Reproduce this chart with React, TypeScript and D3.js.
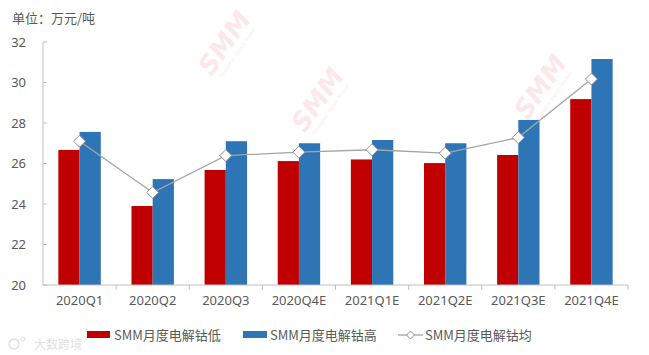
import React from "react";
import * as d3 from "d3";

const categories = ["2020Q1", "2020Q2", "2020Q3", "2020Q4E", "2021Q1E", "2021Q2E", "2021Q3E", "2021Q4E"];
const lowValues = [26.67, 23.9, 25.68, 26.12, 26.2, 26.02, 26.42, 29.18];
const highValues = [27.56, 25.23, 27.1, 27.0, 27.16, 27.0, 28.15, 31.16];
const avgValues = [27.1, 24.57, 26.39, 26.56, 26.68, 26.51, 27.28, 30.17];
const yTicks = [20, 22, 24, 26, 28, 30, 32];
const seriesNames = ["SMM月度电解钴低", "SMM月度电解钴高", "SMM月度电解钴均"];

const W = 649;
const H = 355;
const left = 43;
const right = 628;
const top = 42;
const bottom = 285;

const watermarks = [
  [232, 48],
  [325, 105],
  [548, 92],
];

export default function App() {
  const x = d3.scaleBand<string>().domain(categories).range([left, right]).paddingInner(0).paddingOuter(0);
  const y = d3.scaleLinear().domain([20, 32]).range([bottom, top]);
  const bw = x.bandwidth();
  const barW = bw * 0.29;
  const line = d3
    .line<number>()
    .x((_, i) => (x(categories[i]) as number) + bw / 2)
    .y((d) => y(d));
  const font = "'Noto Sans CJK SC', 'Noto Sans', sans-serif";
  const textColor = "#595959";
  const axisColor = "#BFBFBF";
  const diamond = (cx: number, cy: number, r: number) =>
    `M${cx},${cy - r}L${cx + r},${cy}L${cx},${cy + r}L${cx - r},${cy}Z`;

  return (
    <svg
      width={W}
      height={H}
      style={{ position: "absolute", left: 0, top: 0, background: "#fff" }}
      fontFamily={font}
    >
      <rect width={W} height={H} fill="#fff" />
      {/* watermarks */}
      {watermarks.map(([wx, wy], i) => (
        <g key={i} transform={`translate(${wx},${wy}) rotate(-55)`} opacity={0.1}>
          <text textAnchor="middle" fontSize={26} fontWeight="bold" fontStyle="italic" fill="#E0303A" fontFamily="'DejaVu Sans', sans-serif">
            SMM
          </text>
          <text y={9} textAnchor="middle" fontSize={5} fill="#E0303A" fontFamily="'DejaVu Sans', sans-serif">
            Shanghai Metals Market
          </text>
        </g>
      ))}
      <text x={12} y={23} fontSize={13} fill={textColor}>
        单位：万元/吨
      </text>
      {/* y axis */}
      <line x1={left} x2={left} y1={top} y2={bottom} stroke={axisColor} />
      {yTicks.map((t) => (
        <g key={t}>
          <line x1={left} x2={left + 4} y1={y(t)} y2={y(t)} stroke={axisColor} />
          <text x={26} y={y(t)} dy="0.35em" textAnchor="end" fontSize={13} fill={textColor} fontFamily="'Noto Sans', sans-serif">
            {t}
          </text>
        </g>
      ))}
      {/* bars */}
      {categories.map((c, i) => {
        const cx = (x(c) as number) + bw / 2;
        return (
          <g key={c}>
            <rect x={cx - barW} y={y(lowValues[i])} width={barW} height={bottom - y(lowValues[i])} fill="#C00000" />
            <rect x={cx} y={y(highValues[i])} width={barW} height={bottom - y(highValues[i])} fill="#2E75B6" />
          </g>
        );
      })}
      {/* x axis */}
      <line x1={left} x2={right} y1={bottom} y2={bottom} stroke={axisColor} />
      {categories.map((c) => (
        <line key={c} x1={(x(c) as number) + bw} x2={(x(c) as number) + bw} y1={bottom} y2={bottom + 5} stroke={axisColor} />
      ))}
      {categories.map((c) => (
        <text key={c} x={(x(c) as number) + bw / 2} y={305} textAnchor="middle" fontSize={13} fill={textColor} fontFamily="'Noto Sans', sans-serif">
          {c}
        </text>
      ))}
      {/* avg line */}
      <path d={line(avgValues) || ""} fill="none" stroke="#A5A5A5" strokeWidth={1.3} />
      {avgValues.map((v, i) => (
        <path key={i} d={diamond((x(categories[i]) as number) + bw / 2, y(v), 6)} fill="#fff" stroke="#8C8C8C" strokeWidth={1} />
      ))}
      {/* legend */}
      <rect x={87} y={331} width={23} height={7} fill="#C00000" />
      <text x={114} y={335} dy="0.35em" fontSize={13} fill={textColor}>
        {seriesNames[0]}
      </text>
      <rect x={243} y={331} width={24} height={7} fill="#2E75B6" />
      <text x={270} y={335} dy="0.35em" fontSize={13} fill={textColor}>
        {seriesNames[1]}
      </text>
      <line x1={398} x2={423} y1={335} y2={335} stroke="#A5A5A5" strokeWidth={1.3} />
      <path d={diamond(410.5, 335, 4)} fill="#fff" stroke="#8C8C8C" />
      <text x={425} y={335} dy="0.35em" fontSize={13} fill={textColor}>
        {seriesNames[2]}
      </text>
      {/* bottom-left logo */}
      <g opacity={0.3}>
        <circle cx={14} cy={344} r={5} fill="none" stroke="#999" strokeWidth={1.5} />
        <circle cx={23} cy={339} r={2} fill="none" stroke="#999" />
        <text x={34} y={349} fontSize={12} fill="#999">
          大数跨境
        </text>
      </g>
    </svg>
  );
}
